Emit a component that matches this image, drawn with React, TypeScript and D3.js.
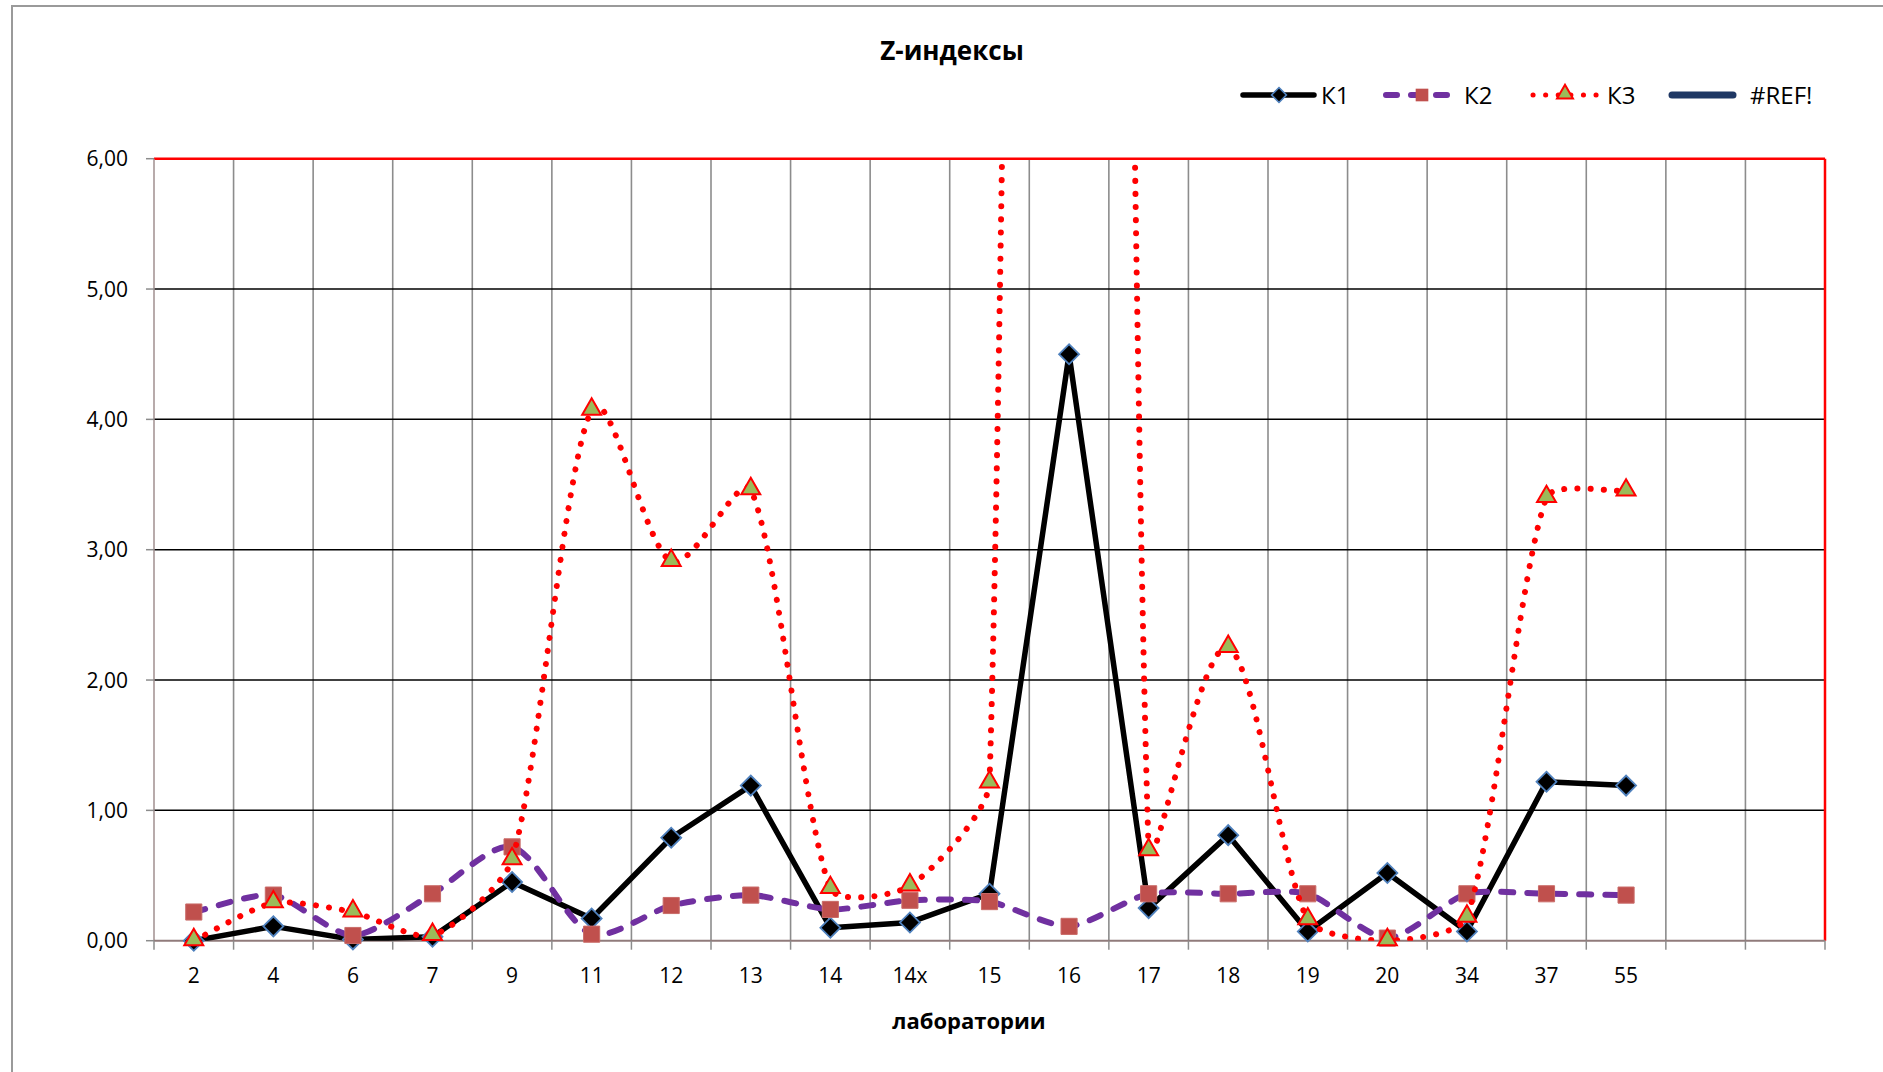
import React from 'react';
import * as d3 from 'd3';

// categories (the last two slots are empty in the source chart)
const categories = ['2', '4', '6', '7', '9', '11', '12', '13', '14', '14x', '15', '16', '17', '18', '19', '20', '34', '37', '55', '', ''];

const k1Values = [0.0, 0.11, 0.01, 0.03, 0.45, 0.17, 0.79, 1.19, 0.1, 0.14, 0.36, 4.5, 0.25, 0.81, 0.07, 0.52, 0.07, 1.22, 1.19];
const k2Values = [0.22, 0.35, 0.04, 0.36, 0.72, 0.05, 0.27, 0.35, 0.24, 0.31, 0.3, 0.11, 0.36, 0.36, 0.36, 0.02, 0.36, 0.36, 0.35];
const k3Values = [0.0, 0.29, 0.22, 0.04, 0.62, 4.07, 2.91, 3.46, 0.4, 0.42, 1.21, 40, 0.69, 2.25, 0.16, 0.0, 0.18, 3.4, 3.45];

const yTicks = [0, 1, 2, 3, 4, 5, 6];
const legendItems = ['К1', 'К2', 'К3', '#REF!'];

const W = 1883;
const H = 1072;
const FONT = '"Open Sans", "Noto Sans", sans-serif';

const plot = { left: 154, right: 1825, top: 158.7, bottom: 940.7 };

// Excel-like smoothed line: cardinal bezier handles, limited by the segment length
function smoothPath(pts: [number, number][], cap = 0.22): string {
  const p = d3.path();
  p.moveTo(pts[0][0], pts[0][1]);
  const limit = (vx: number, vy: number, max: number): [number, number] => {
    const len = Math.hypot(vx, vy);
    if (len <= max || len === 0) return [vx, vy];
    return [vx * max / len, vy * max / len];
  };
  for (let i = 0; i < pts.length - 1; i++) {
    const p1 = pts[i];
    const p2 = pts[i + 1];
    const p0 = pts[i - 1] || p1;
    const p3 = pts[i + 2] || p2;
    const seg = Math.hypot(p2[0] - p1[0], p2[1] - p1[1]);
    const v1 = limit((p2[0] - p0[0]) / 6, (p2[1] - p0[1]) / 6, seg * cap);
    const v2 = limit((p3[0] - p1[0]) / 6, (p3[1] - p1[1]) / 6, seg * cap);
    p.bezierCurveTo(p1[0] + v1[0], p1[1] + v1[1], p2[0] - v2[0], p2[1] - v2[1], p2[0], p2[1]);
  }
  return p.toString();
}

export default function App() {
  const x = d3.scaleBand<number>()
    .domain(d3.range(categories.length))
    .range([plot.left, plot.right])
    .padding(0);
  const y = d3.scaleLinear().domain([0, 6]).range([plot.bottom, plot.top]);
  const cx = (i: number) => (x(i) as number) + x.bandwidth() / 2;

  const straight = d3.line<number>().x((_, i) => cx(i)).y(d => y(d));
  const toPts = (vals: number[]) => vals.map((v, i) => [cx(i), y(v)] as [number, number]);

  const diamond = d3.symbol().type(d3.symbolSquare).size(200)();
  const square = d3.symbol().type(d3.symbolSquare).size(260)();
  const triangle = d3.symbol().type(d3.symbolTriangle).size(155)();

  const boundaries = d3.range(categories.length + 1).map(i => plot.left + i * x.bandwidth());

  const legendY = 95;
  const legendX = [1243, 1386, 1530, 1672];

  return (
    <svg width={W} height={H} style={{ position: 'absolute', left: 0, top: 0, background: '#fff' }}>
      <rect x={0} y={0} width={W} height={H} fill="#fff" />
      {/* chart frame */}
      <rect x={12} y={6} width={W + 50} height={H + 50} fill="none" stroke="#9a9a9a" strokeWidth={2} />

      <text x={952} y={60} textAnchor="middle" fontFamily={FONT} fontWeight="bold" fontSize={26} fill="#000">Z-индексы</text>

      {/* vertical gridlines */}
      {boundaries.slice(1, -1).map((bx, i) => (
        <line key={'v' + i} x1={bx} x2={bx} y1={plot.top} y2={plot.bottom} stroke="#8c8c8c" strokeWidth={1.6} />
      ))}
      {/* horizontal gridlines */}
      {yTicks.slice(1, -1).map(t => (
        <line key={'h' + t} x1={plot.left} x2={plot.right} y1={y(t)} y2={y(t)} stroke="#000" strokeWidth={1.5} />
      ))}
      {/* plot border top/right */}
      <line x1={plot.left} x2={plot.right} y1={plot.top} y2={plot.top} stroke="#ff0000" strokeWidth={2.5} />
      <line x1={plot.right} x2={plot.right} y1={plot.top} y2={plot.bottom} stroke="#ff0000" strokeWidth={2.5} />

      {/* y axis */}
      <line x1={plot.left} x2={plot.left} y1={plot.top} y2={plot.bottom} stroke="#a08f8f" strokeWidth={1.5} />
      {yTicks.map(t => (
        <g key={'yt' + t}>
          <line x1={plot.left - 8} x2={plot.left} y1={y(t)} y2={y(t)} stroke="#8c8c8c" strokeWidth={1.5} />
          <text x={128} y={y(t)} dy="0.36em" textAnchor="end" fontFamily={FONT} fontSize={21} fill="#000">
            {d3.format('.2f')(t).replace('.', ',')}
          </text>
        </g>
      ))}

      {/* x axis */}
      <line x1={plot.left} x2={plot.right} y1={plot.bottom} y2={plot.bottom} stroke="#907b7b" strokeWidth={2} />
      {boundaries.map((bx, i) => (
        <line key={'xt' + i} x1={bx} x2={bx} y1={plot.bottom} y2={plot.bottom + 9} stroke="#8c8c8c" strokeWidth={1.5} />
      ))}
      {categories.map((c, i) => (
        <text key={'xl' + i} x={cx(i)} y={983} textAnchor="middle" fontFamily={FONT} fontSize={21} fill="#000">{c}</text>
      ))}
      <text x={969} y={1029} textAnchor="middle" fontFamily={FONT} fontWeight="bold" fontSize={22} fill="#000">лаборатории</text>

      <defs>
        <clipPath id="lineClip">
          <rect x={plot.left} y={plot.top} width={plot.right - plot.left} height={plot.bottom - plot.top} />
        </clipPath>
        <clipPath id="markerClip">
          <rect x={plot.left - 20} y={plot.top - 20} width={plot.right - plot.left + 40} height={plot.bottom - plot.top + 40} />
        </clipPath>
      </defs>

      {/* K1 */}
      <path d={straight(k1Values) as string} clipPath="url(#lineClip)" fill="none" stroke="#000" strokeWidth={5.5} strokeLinejoin="round" />
      <g clipPath="url(#markerClip)">
        {k1Values.map((v, i) => (
          <path key={'m1' + i} d={diamond as string} transform={`translate(${cx(i)},${y(v)}) rotate(45)`} fill="#000" stroke="#4f81bd" strokeWidth={1.8} />
        ))}
      </g>
      {/* K2 */}
      <path d={smoothPath(toPts(k2Values))} clipPath="url(#lineClip)" fill="none" stroke="#7030a0" strokeWidth={6} strokeDasharray="12 14" strokeLinecap="round" />
      <g clipPath="url(#markerClip)">
        {k2Values.map((v, i) => (
          <path key={'m2' + i} d={square as string} transform={`translate(${cx(i)},${y(v)})`} fill="#c0504d" stroke="#c96b68" strokeWidth={1} />
        ))}
      </g>
      {/* K3 */}
      <path d={smoothPath(toPts(k3Values))} clipPath="url(#lineClip)" fill="none" stroke="#ff0000" strokeWidth={6} strokeDasharray="0.1 13" strokeLinecap="round" />
      <g clipPath="url(#markerClip)">
        {k3Values.map((v, i) => (
          <path key={'m3' + i} d={triangle as string} transform={`translate(${cx(i)},${y(v) - 1})`} fill="#9bbb59" stroke="#ff0000" strokeWidth={2} />
        ))}
      </g>

      {/* legend */}
      <g fontFamily={FONT} fontSize={24} fill="#000">
        <line x1={legendX[0]} x2={legendX[0] + 71} y1={legendY} y2={legendY} stroke="#000" strokeWidth={5.5} strokeLinecap="round" />
        <path d={d3.symbol().type(d3.symbolSquare).size(110)() as string} transform={`translate(${legendX[0] + 36},${legendY}) rotate(45)`} fill="#000" stroke="#4f81bd" strokeWidth={1.6} />
        <text x={legendX[0] + 78} y={legendY} dy="0.36em">{legendItems[0]}</text>

        <line x1={legendX[1]} x2={legendX[1] + 70} y1={legendY} y2={legendY} stroke="#7030a0" strokeWidth={6} strokeDasharray="11 14" strokeLinecap="round" />
        <path d={d3.symbol().type(d3.symbolSquare).size(160)() as string} transform={`translate(${legendX[1] + 36},${legendY})`} fill="#c0504d" />
        <text x={legendX[1] + 78} y={legendY} dy="0.36em">{legendItems[1]}</text>

        <line x1={legendX[2] + 3} x2={legendX[2] + 70} y1={legendY} y2={legendY} stroke="#ff0000" strokeWidth={5} strokeDasharray="0.1 12.5" strokeLinecap="round" />
        <path d={d3.symbol().type(d3.symbolTriangle).size(110)() as string} transform={`translate(${legendX[2] + 35},${legendY - 1})`} fill="#9bbb59" stroke="#ff0000" strokeWidth={2} />
        <text x={legendX[2] + 77} y={legendY} dy="0.36em">{legendItems[2]}</text>

        <line x1={legendX[3]} x2={legendX[3] + 61} y1={legendY} y2={legendY} stroke="#1f3864" strokeWidth={7} strokeLinecap="round" />
        <text x={legendX[3] + 78} y={legendY} dy="0.36em">{legendItems[3]}</text>
      </g>
    </svg>
  );
}
